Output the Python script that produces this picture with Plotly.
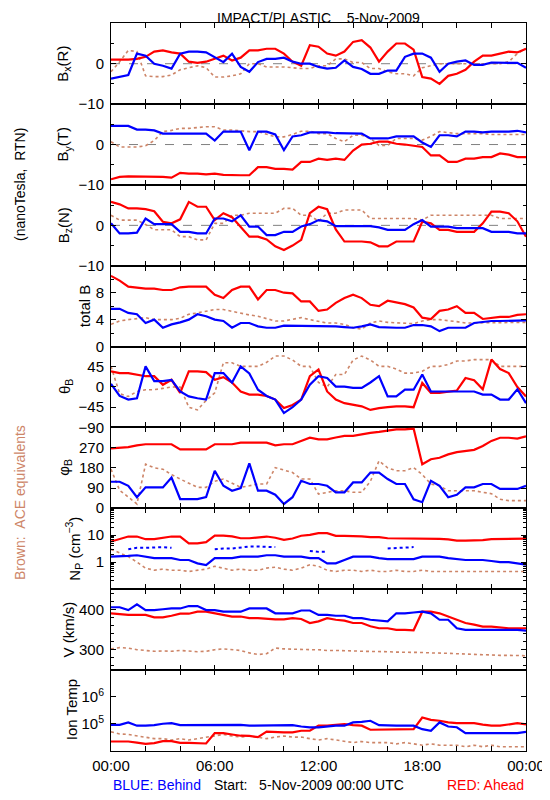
import plotly.graph_objects as go

# ---------------- data (30-min samples) ----------------
hours = [0, 0.5, 1, 1.5, 2, 2.5, 3, 3.5, 4, 4.5, 5, 5.5, 6, 6.5, 7, 7.5, 8, 8.5, 9, 9.5,
         10, 10.5, 11, 11.5, 12, 12.5, 13, 13.5, 14, 14.5, 15, 15.5, 16, 16.5, 17, 17.5,
         18, 18.5, 19, 19.5, 20, 20.5, 21, 21.5, 22, 22.5, 23, 23.5, 24]

bx_red = [1.0, 1.0, 1.0, 1.2, 1.7, 3.0, 3.3, 2.8, 2.5, 0.5, 0.2, 0.5, 1.2, 2.0, 0.8, 1.5, 3.3, 3.3, 3.7, 3.7,
          2.5, 0.5, -0.5, 4.6, 4.2, 2.5, 2.0, 3.0, 5.4, 5.8, 4.0, 0.5, 3.0, 5.0, 5.0, 3.5, -3.3, -3.7, -5.0, -3.0,
          -2.5, -1.5, 0.5, 2.0, 2.0, 2.5, 3.0, 2.8, 3.7]
bx_blue = [-3.7, -3.2, -2.8, 2.5, 2.0, 0.0, -0.5, -1.2, 2.5, 3.0, 3.0, 2.8, 1.7, 0.4, 2.5, -0.8, -2.0, 0.4, 1.2, 1.2,
           1.5, 0.5, 0.0, 0.0, -0.8, -1.2, -1.0, 0.8, -0.8, -1.3, -2.5, -2.5, -1.7, -1.7, 1.7, 2.5, 2.5, 1.5, -2.0, 0.0,
           0.5, 0.8, -0.3, -0.3, 0.3, 0.2, 0.2, 0.2, -1.0]
bx_brown = [-2.0, 0.5, 3.3, 3.0, -3.0, -3.2, -3.2, -2.8, -1.5, -1.0, -0.5, -1.0, -3.3, -3.3, -3.0, -2.5, 0.0, 0.0, -0.8, -0.8,
            -0.8, -1.0, -1.2, -1.2, -0.5, -0.5, 1.2, 1.2, 0.3, 0.3, -1.2, -1.2, -2.0, -2.5, -2.5, -3.0, -1.0, -0.5, 0.0, 0.0,
            0.0, 0.0, 0.0, 0.0, 0.0, 0.0, 0.5, 2.5, 3.7]

by_red = [-8.6, -8.0, -7.9, -7.9, -7.9, -8.0, -8.0, -8.2, -7.0, -7.2, -7.2, -7.4, -7.2, -7.5, -7.6, -7.6, -7.6, -5.6, -5.6, -6.0,
          -6.0, -6.2, -4.3, -4.3, -3.5, -3.8, -3.5, -3.8, -1.5, 0.0, 0.2, 0.7, 0.7, 0.2, 0.0, -0.3, -0.6, -2.7, -2.7, -4.3,
          -4.3, -3.5, -3.5, -3.1, -3.1, -2.2, -2.5, -3.1, -3.1]
by_blue = [4.6, 4.6, 4.6, 3.7, 3.7, 3.5, 2.7, 2.7, 2.7, 2.7, 2.7, 2.7, 1.0, 3.2, 3.2, 3.2, -1.4, 3.2, 3.2, 2.5,
           -1.4, 2.0, 2.3, 3.0, 3.0, 3.0, 2.8, 2.8, 2.7, 2.7, 1.5, 1.5, 1.5, 2.0, 2.0, 2.0, 0.5, -0.6, 2.3, 2.3,
           2.0, 3.2, 3.2, 3.0, 3.2, 3.2, 3.2, 3.4, 3.0]
by_brown = [0.7, -0.6, -0.6, -0.6, -0.3, 1.0, 3.2, 3.5, 4.0, 4.0, 4.2, 4.4, 4.4, 3.6, 3.6, 3.4, 3.2, 3.2, 2.5, 1.9,
            1.9, 2.5, 3.3, 3.3, 2.7, 2.7, 1.5, 0.7, 2.3, 2.3, 1.5, -0.2, -0.2, 1.5, 1.5, 1.5, 1.1, 2.0, 3.2, 3.0,
            2.7, 2.7, 2.7, 2.7, 2.5, 2.5, 2.5, 2.5, 2.5]

bz_red = [5.8, 5.2, 4.2, 4.2, 4.0, 3.5, 0.9, 0.5, 1.5, 5.8, 4.6, 4.6, 1.3, 3.0, 2.0, -0.3, -2.8, -2.8, -3.5, -5.2,
          -6.1, -5.0, -3.6, 3.0, 4.6, 4.0, -1.0, -4.0, -4.0, -4.0, -4.2, -5.2, -5.2, -4.0, -4.0, -4.0, 0.9, 0.5, -1.1, -1.1,
          -1.6, -1.6, -1.6, 0.5, 3.4, 3.4, 3.0, 1.0, -2.8]
bz_blue = [0.5, -2.0, -2.0, -1.8, 1.7, 0.3, 0.3, 0.3, -1.6, -1.6, -2.0, -2.0, 1.7, 1.7, 1.0, 2.5, -0.3, -0.3, -2.4, -2.4,
           -1.6, -1.6, -0.3, 0.3, 1.3, 1.0, -0.2, -0.2, -0.2, -0.2, -0.2, -0.5, -1.1, -1.1, -1.1, 0.3, 1.3, -0.3, -0.3, -0.3,
           -0.7, -0.7, -0.7, -0.7, -1.6, -1.6, -1.6, -2.0, -2.0]
bz_brown = [2.5, 1.3, 1.3, 1.3, 0.2, -1.1, -1.1, -1.1, -2.8, -2.8, -3.6, -3.6, 0.5, 0.5, 2.5, 2.5, 3.0, 3.0, 3.0, 3.0,
            4.2, 4.2, 2.5, 2.5, 1.0, 3.0, 3.0, 3.8, 3.8, 3.8, 1.7, 1.7, 1.7, 1.7, 1.7, 1.7, 1.3, 2.5, 2.5, 2.5,
            2.5, 2.5, 2.5, 2.5, 2.5, 1.7, 1.7, 1.7, 1.7]

bt_red = [10.5, 9.8, 8.9, 8.7, 8.6, 8.6, 8.4, 8.4, 8.8, 8.9, 8.9, 8.9, 7.7, 7.2, 8.4, 8.9, 8.9, 7.0, 8.4, 8.4,
          8.0, 7.9, 6.7, 6.7, 5.3, 5.5, 6.5, 7.2, 7.7, 7.2, 6.2, 6.0, 6.8, 6.5, 6.3, 5.8, 4.3, 4.1, 5.3, 5.5,
          6.0, 5.0, 5.0, 4.1, 4.3, 4.4, 4.4, 4.7, 4.8]
bt_blue = [5.6, 5.6, 5.0, 4.8, 3.5, 4.0, 2.8, 3.3, 3.6, 4.0, 4.8, 4.5, 4.0, 3.8, 2.8, 3.5, 3.5, 3.0, 2.8, 2.8,
           3.1, 3.1, 3.1, 3.1, 3.1, 3.0, 3.0, 2.9, 2.8, 3.0, 3.3, 2.9, 2.8, 2.8, 2.8, 3.2, 3.2, 3.0, 2.3, 2.8,
           2.8, 2.8, 3.5, 3.7, 3.8, 3.8, 3.8, 3.8, 3.9]
bt_brown = [3.3, 3.8, 4.0, 4.2, 4.3, 4.0, 4.0, 4.0, 4.2, 4.8, 5.0, 5.2, 5.5, 5.5, 5.2, 5.0, 4.7, 4.5, 4.2, 3.8,
            3.8, 4.0, 4.3, 4.0, 3.7, 3.5, 3.5, 3.3, 2.8, 2.6, 3.5, 3.8, 3.6, 3.5, 3.5, 3.4, 3.8, 4.0, 4.0, 3.9,
            3.7, 3.5, 3.5, 3.5, 3.5, 3.6, 3.6, 3.6, 3.6]

th_red = [35, 31, 31, 28, 24, 24, 5, 16, -13, 35, 35, 33, 16, 22, 10, -10, -17, -17, -20, -28,
          -47, -40, -28, 24, 39, -10, -28, -36, -40, -43, -51, -47, -45, -43, -43, -45, 9, -13, -13, -10,
          -8, 20, 15, -5, 61, 40, 31, 0, -21]
th_blue = [7, -20, -28, -25, 46, 13, 13, 16, -10, -21, -25, -28, 31, 31, 10, 46, 30, -6, -20, -28,
           -58, -45, -28, 5, 24, 20, 1, 1, -2, -2, 10, 24, -21, -21, -6, -6, 28, -10, -10, -10,
           -10, -10, -10, -17, -17, -28, -28, -5, -36]
th_brown = [46, -15, -21, -10, -6, -6, -3, 0, 0, -45, -51, -30, -13, 54, 54, 46, 46, 46, 55, 69,
            69, 60, 46, 46, 10, 0, 28, 28, 60, 69, 60, 46, 46, 40, 31, 31, 35, 46, 46, 50,
            58, 58, 61, 61, 61, 46, 46, 46, 46]

ph_red = [267, 270, 272, 280, 285, 285, 285, 285, 262, 262, 262, 262, 285, 285, 285, 292, 292, 292, 292, 280,
          285, 285, 300, 314, 307, 307, 315, 322, 322, 330, 336, 340, 345, 351, 351, 355, 196, 218, 225, 240,
          250, 255, 260, 277, 300, 314, 314, 310, 320]
ph_blue = [118, 118, 100, 49, 93, 93, 93, 137, 41, 41, 41, 50, 167, 100, 78, 90, 200, 78, 78, 60,
           19, 49, 122, 108, 108, 100, 71, 71, 115, 115, 159, 159, 130, 108, 108, 40, 27, 122, 100, 49,
           60, 93, 93, 108, 108, 86, 86, 86, 100]
ph_brown = [174, 80, 50, 19, 196, 180, 174, 150, 130, 110, 93, 93, 120, 130, 110, 93, 100, 108, 108, 181,
            170, 159, 130, 130, 63, 70, 78, 78, 71, 71, 120, 211, 180, 167, 167, 181, 150, 108, 100, 78,
            78, 78, 78, 71, 65, 40, 34, 34, 34]

np_red = [5.8, 7.0, 8.9, 8.9, 7.1, 7.1, 8.0, 8.9, 8.9, 5.0, 5.0, 5.5, 9.7, 9.7, 9.0, 7.7, 7.7, 8.5, 8.9, 8.0,
          6.7, 7.5, 9.5, 10.3, 11.9, 11.9, 9.4, 9.4, 9.4, 9.0, 8.4, 8.4, 7.7, 7.7, 7.7, 7.7, 7.3, 7.3, 7.3, 7.0,
          6.3, 6.3, 6.3, 6.5, 7.1, 7.1, 7.1, 7.1, 7.5]
np_blue = [1.6, 1.6, 1.7, 1.8, 1.6, 1.4, 1.4, 1.4, 1.2, 1.2, 0.9, 0.77, 1.4, 1.4, 1.4, 1.6, 1.6, 1.6, 1.8, 1.8,
           1.6, 1.6, 1.6, 1.4, 1.4, 0.9, 0.9, 1.2, 1.6, 1.6, 1.6, 1.4, 1.3, 1.3, 1.3, 1.3, 1.6, 1.6, 1.6, 1.4,
           1.3, 1.2, 1.2, 1.2, 1.1, 1.0, 1.0, 0.9, 0.8]
np_blue_upper = [None, None, 3.0, 3.4, 3.4, 3.6, 3.6, 3.4, None, None, None, None, 3.0, 3.2, 3.2, 3.6, 3.8, 3.8, 3.8, 3.6,
                 None, None, None, 2.6, 2.4, 2.4, None, None, None, None, None, None, 3.2, 3.4, 3.4, 3.6, None, None, None, None,
                 None, None, None, None, None, None, None, None, None]
np_brown = [3.0, 2.2, 1.6, 1.0, 0.6, 0.5, 0.55, 0.5, 0.5, 0.45, 0.5, 0.55, 0.7, 0.6, 0.5, 0.55, 0.5, 0.5, 0.6, 0.65,
            0.55, 0.5, 0.6, 0.8, 0.7, 0.5, 0.45, 0.5, 0.5, 0.45, 0.5, 0.45, 0.45, 0.5, 0.45, 0.45, 0.5, 0.45, 0.45, 0.45,
            0.45, 0.45, 0.45, 0.45, 0.45, 0.45, 0.45, 0.45, 0.45]

v_red = [390, 388, 386, 386, 386, 380, 380, 384, 389, 389, 394, 394, 390, 386, 382, 382, 378, 378, 376, 375,
         375, 378, 376, 366, 370, 378, 374, 372, 366, 366, 358, 353, 353, 349, 349, 348, 394, 394, 390, 382,
         375, 366, 362, 357, 357, 355, 353, 353, 353]
v_blue = [405, 405, 398, 412, 398, 398, 400, 402, 402, 408, 408, 398, 398, 394, 394, 394, 402, 402, 402, 390,
          390, 390, 397, 397, 386, 386, 384, 384, 378, 378, 374, 372, 370, 390, 390, 392, 394, 390, 374, 374,
          353, 349, 349, 349, 349, 349, 349, 349, 347]
v_brown = [302, 305, 304, 300, 298, 296, 297, 296, 298, 296, 295, 296, 300, 302, 300, 298, 292, 288, 290, 304,
           302, 301, 300, 300, 300, 298, 298, 298, 297, 296, 296, 295, 295, 294, 294, 294, 293, 292, 292, 291,
           290, 289, 289, 288, 287, 286, 286, 285, 285]

t_red = [2.2e4, 2.2e4, 2.2e4, 2.0e4, 1.8e4, 1.9e4, 2.25e4, 2.25e4, 1.95e4, 1.95e4, 1.95e4, 1.85e4, 4.5e4, 4.5e4, 4.0e4, 3.6e4,
         3.55e4, 3.2e4, 5.1e4, 4.8e4, 4.8e4, 4.8e4, 5.5e4, 5.5e4, 8.5e4, 8.5e4, 9.3e4, 9.8e4, 8.9e4, 8.5e4, 6.0e4, 6.0e4,
         6.0e4, 6.0e4, 6.0e4, 6.3e4, 1.7e5, 1.4e5, 1.29e5, 1.12e5, 1.05e5, 1.05e5, 1.05e5, 9.3e4, 8.5e4, 8.5e4, 9.3e4, 1.05e5, 9.5e4]
t_blue = [9.1e4, 9.1e4, 1.12e5, 8.5e4, 8.5e4, 8.9e4, 1.0e5, 1.05e5, 8.9e4, 8.9e4, 9.1e4, 9.1e4, 9.3e4, 9.1e4, 9.1e4, 9.1e4,
          8.5e4, 8.5e4, 8.5e4, 8.5e4, 8.7e4, 8.9e4, 7.9e4, 7.4e4, 7.4e4, 7.9e4, 8.5e4, 8.5e4, 1.12e5, 1.17e5, 1.29e5, 8.9e4,
          8.5e4, 8.5e4, 8.5e4, 8.5e4, 6.3e4, 5.5e4, 1.12e5, 7.9e4, 7.4e4, 4.5e4, 4.5e4, 4.5e4, 4.5e4, 4.5e4, 4.5e4, 4.5e4, 5.0e4]
t_brown = [5.0e4, 4.2e4, 4.0e4, 3.5e4, 3.2e4, 2.8e4, 2.8e4, 2.5e4, 2.8e4, 2.5e4, 2.8e4, 3.2e4, 3.5e4, 4.0e4, 3.5e4, 3.2e4,
           3.5e4, 3.2e4, 2.8e4, 3.2e4, 3.5e4, 3.2e4, 3.2e4, 2.8e4, 2.5e4, 2.8e4, 2.5e4, 2.2e4, 2.0e4, 2.2e4, 2.0e4, 2.0e4,
           2.0e4, 1.8e4, 2.0e4, 1.8e4, 1.6e4, 1.8e4, 1.6e4, 1.6e4, 1.6e4, 1.4e4, 1.6e4, 1.4e4, 1.6e4, 1.4e4, 1.4e4, 1.4e4, 1.4e4]

x_tick_hours = [0, 6, 12, 18, 24]
x_tick_labels = ["00:00", "06:00", "12:00", "18:00", "00:00"]

# ---------------- styling ----------------
RED = "#ff0000"
BLUE = "#0000ff"
BROWN = "rgb(205,133,104)"
FONT = "Liberation Sans"
OFF = 8                      # page body margin the figure sits behind
W, H = 550 - OFF, 800 - OFF
X0, X1 = 111, 526            # target window pixels of the plot area
TOP, BOT = 23.3, 750.7
PH = (BOT - TOP) / 9


def fx(px):
    return (px - OFF) / W


def fy(py):
    return 1 - (py - OFF) / H


panels = [
    dict(s=(bx_brown, bx_red, bx_blue), rng=[-10, 10], type="linear", tv=[-10, 0], tt=["\u221210", "0"],
         minor=[-5, 5], title="B<sub>x</sub>(R)", tx=64, zero=True),
    dict(s=(by_brown, by_red, by_blue), rng=[-10, 10], type="linear", tv=[-10, 0], tt=["\u221210", "0"],
         minor=[-5, 5], title="B<sub>y</sub>(T)", tx=64, zero=True),
    dict(s=(bz_brown, bz_red, bz_blue), rng=[-10, 10], type="linear", tv=[-10, 0], tt=["\u221210", "0"],
         minor=[-5, 5], title="B<sub>z</sub>(N)", tx=64, zero=True),
    dict(s=(bt_brown, bt_red, bt_blue), rng=[0, 12], type="linear", tv=[0, 4, 8], tt=["0", "4", "8"],
         minor=[2, 6, 10], title="total B", tx=84, zero=False),
    dict(s=(th_brown, th_red, th_blue), rng=[-90, 90], type="linear", tv=[-90, -45, 0, 45],
         tt=["\u221290", "\u221245", "0", "45"], minor=[], title="\u03b8<sub>B</sub>", tx=65, zero=False),
    dict(s=(ph_brown, ph_red, ph_blue), rng=[0, 360], type="linear", tv=[0, 90, 180, 270],
         tt=["0", "90", "180", "270"], minor=[], title="\u03c6<sub>B</sub>", tx=65, zero=False),
    dict(s=(np_brown, np_red, np_blue), rng=[-1, 2], type="log", tv=[1, 10], tt=["1", "10"],
         minor=[0.2, 0.3, 0.4, 0.5, 0.6, 0.7, 0.8, 0.9, 2, 3, 4, 5, 6, 7, 8, 9, 20, 30, 40, 50, 60, 70, 80, 90],
         title="N<sub>P</sub> (cm<sup>\u22123</sup>)", tx=74, zero=False),
    dict(s=(v_brown, v_red, v_blue), rng=[250, 450], type="linear", tv=[300, 400], tt=["300", "400"],
         minor=[260, 280, 320, 340, 360, 380, 420, 440], title="V (km/s)", tx=68, zero=False),
    dict(s=(t_brown, t_red, t_blue), rng=[4, 7], type="log", tv=[1e5, 1e6],
         tt=["10<sup>5</sup>", "10<sup>6</sup>"], minor=[], title="Ion Temp", tx=71, zero=False),
]

fig = go.Figure()
layout = dict(width=W, height=H, margin=dict(l=0, r=0, t=0, b=0, autoexpand=False), autosize=False,
              paper_bgcolor="white", plot_bgcolor="white", showlegend=False,
              font=dict(family=FONT, size=15, color="black"))
annotations = []
shapes = []

for i, p in enumerate(panels):
    k = "" if i == 0 else str(i + 1)
    xa, ya = "x" + k, "y" + k
    top = TOP + i * PH
    bot = top + PH
    for vals, col, wid, dash in zip(p["s"], (BROWN, RED, BLUE), (1.6, 2.2, 2.2), ("dot", "solid", "solid")):
        fig.add_trace(go.Scatter(x=hours, y=vals, mode="lines", line=dict(color=col, width=wid, dash=dash),
                                 xaxis=xa, yaxis=ya, hoverinfo="skip"))
    if i == 6:
        fig.add_trace(go.Scatter(x=hours, y=np_blue_upper, mode="lines",
                                 line=dict(color=BLUE, width=2, dash="dot"),
                                 xaxis=xa, yaxis=ya, hoverinfo="skip"))
    last = (i == len(panels) - 1)
    layout["xaxis" + k] = dict(
        domain=[fx(X0), fx(X1)], anchor=ya, range=[0, 24], showgrid=False, zeroline=False,
        automargin=False,
        showline=True, linecolor="black", linewidth=1, mirror="ticks",
        tickmode="array", tickvals=x_tick_hours, ticktext=x_tick_labels,
        ticks="inside", ticklen=5, tickcolor="black", showticklabels=last,
        ticklabelstandoff=1,
        minor=dict(tickmode="array", tickvals=[2, 4, 8, 10, 14, 16, 20, 22], ticks="inside",
                   ticklen=5, tickcolor="black"),
        tickfont=dict(family=FONT, size=15),
    )
    if i > 0:
        layout["xaxis" + k]["matches"] = "x"
    ymin = dict(tickmode="array", tickvals=p["minor"], ticks="inside", ticklen=3, tickcolor="black") \
        if p["minor"] else dict(ticks="")
    layout["yaxis" + k] = dict(
        domain=[fy(bot), fy(top)], anchor=xa, type=p["type"], range=p["rng"],
        automargin=False,
        showgrid=False, zeroline=False, showline=True, linecolor="black", linewidth=1, mirror="ticks",
        tickmode="array", tickvals=p["tv"], ticktext=p["tt"], ticks="inside", ticklen=5,
        tickcolor="black", ticklabelstandoff=3, tickfont=dict(family=FONT, size=15), minor=ymin,
    )
    if p["zero"]:
        shapes.append(dict(type="line", xref=xa, yref=ya, x0=0, x1=24, y0=0, y1=0, layer="below",
                           line=dict(color="gray", width=1, dash="dash")))
    annotations.append(dict(text=p["title"], xref="paper", yref="paper", x=fx(p["tx"]),
                            y=fy((top + bot) / 2), textangle=-90, xanchor="center", yanchor="middle",
                            showarrow=False, font=dict(family=FONT, size=15, color="black")))

annotations += [
    dict(text="IMPACT/PLASTIC\u00a0\u00a0\u00a0\u00a05-Nov-2009", xref="paper", yref="paper",
         x=fx((X0 + X1) / 2), y=fy(8.5), xanchor="center", yanchor="top", showarrow=False,
         borderpad=0, font=dict(family=FONT, size=14, color="black")),
    dict(text="(nanoTesla,\u00a0\u00a0RTN)", xref="paper", yref="paper", x=fx(20), y=fy(185),
         textangle=-90, xanchor="center", yanchor="middle", showarrow=False,
         font=dict(family=FONT, size=14, color="black")),
    dict(text="Brown:\u00a0\u00a0ACE equivalents", xref="paper", yref="paper", x=fx(20), y=fy(503),
         textangle=-90, xanchor="center", yanchor="middle", showarrow=False,
         font=dict(family=FONT, size=14, color=BROWN)),
    dict(text="BLUE: Behind", xref="paper", yref="paper", x=fx(X0), y=fy(785), xanchor="left",
         yanchor="middle", showarrow=False, font=dict(family=FONT, size=14, color=BLUE)),
    dict(text="Start:\u00a0\u00a0 5-Nov-2009 00:00 UTC", xref="paper", yref="paper", x=fx(212), y=fy(785),
         xanchor="left", yanchor="middle", showarrow=False, font=dict(family=FONT, size=14, color="black")),
    dict(text="RED: Ahead", xref="paper", yref="paper", x=fx(X1), y=fy(785), xanchor="right",
         yanchor="middle", showarrow=False, font=dict(family=FONT, size=14, color=RED)),
]
layout["annotations"] = annotations
layout["shapes"] = shapes
fig.update_layout(**layout)
fig.write_html("out.html")
